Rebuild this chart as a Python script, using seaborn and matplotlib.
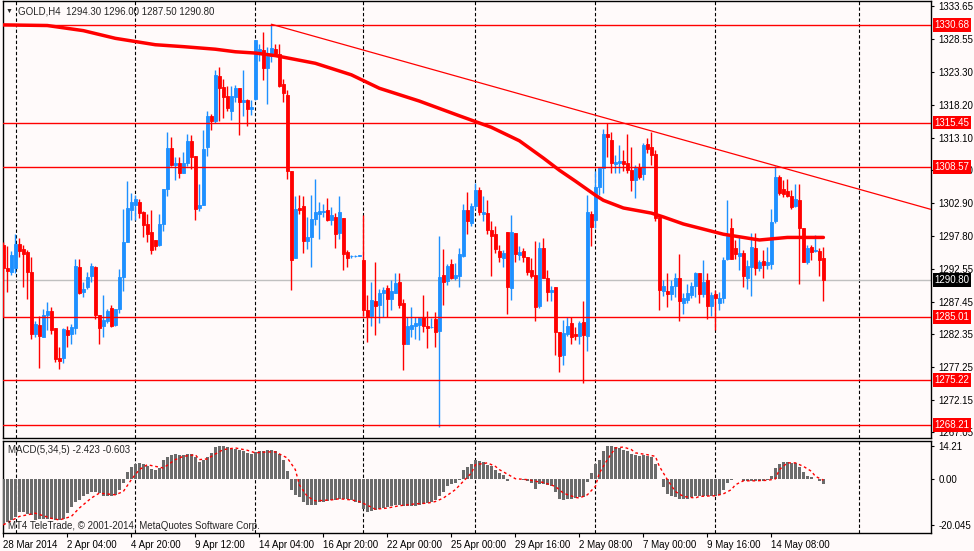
import numpy as np
import pandas as pd
import seaborn as sns
import matplotlib.pyplot as plt
import matplotlib.transforms as mtransforms

# GOLD H4 candles, bar 0 = 28 Mar 2014
opens = [
    1296.3, 1292.8, 1292.1, 1292.8, 1296.5, 1295.7, 1295.2, 1292.1, 1282.4, 1283.8,
    1282.0, 1285.4, 1286.0, 1283.3, 1278.7, 1278.7, 1283.0, 1282.4, 1283.4, 1292.9,
    1289.0, 1289.7, 1291.4, 1292.9, 1285.4, 1283.7, 1284.4, 1286.5, 1283.8, 1286.3,
    1291.3, 1296.8, 1301.8, 1302.6, 1303.0, 1301.4, 1299.6, 1298.3, 1297.1, 1296.3,
    1299.6, 1305.1, 1311.5, 1308.8, 1309.1, 1307.6, 1309.1, 1312.6, 1310.2, 1302.1,
    1302.6, 1311.6, 1316.5, 1315.7, 1322.7, 1321.0, 1319.6, 1317.3, 1319.5, 1320.8,
    1318.7, 1318.9, 1317.6, 1319.1, 1326.5, 1326.8, 1324.0, 1325.8, 1326.9, 1326.2,
    1321.5, 1319.7, 1307.9, 1294.3, 1302.1, 1302.4, 1297.0, 1297.6, 1300.4, 1301.2,
    1301.4, 1301.8, 1300.3, 1300.7, 1298.2, 1300.5, 1295.2, 1294.6, 1294.6, 1294.65,
    1294.0, 1286.1, 1285.3, 1287.6, 1286.9, 1288.8, 1289.6, 1287.9, 1288.8, 1290.5,
    1287.3, 1280.9, 1283.2, 1283.7, 1283.9, 1285.1, 1283.7, 1283.5, 1284.8, 1282.9,
    1291.6, 1290.7, 1293.3, 1291.2, 1291.5, 1294.6, 1301.8, 1299.8, 1302.4, 1304.9,
    1301.2, 1301.3, 1298.7, 1298.0, 1295.4, 1294.3, 1298.3, 1289.6, 1298.2, 1294.7,
    1295.4, 1294.4, 1292.4, 1291.6, 1286.8, 1295.8, 1291.1, 1289.0, 1289.8, 1282.8,
    1279.2, 1282.4, 1284.1, 1282.4, 1282.1, 1284.3, 1282.1, 1301.2, 1300.2, 1305.3,
    1308.4, 1313.7, 1312.7, 1309.0, 1309.2, 1309.4, 1309.2, 1308.0, 1306.5, 1308.5,
    1307.4, 1312.1, 1311.6, 1310.6, 1300.7, 1289.2, 1289.1, 1288.7, 1289.9, 1291.1,
    1287.3, 1287.8, 1288.5, 1289.9, 1291.9, 1288.7, 1290.8, 1286.8, 1288.7, 1287.3,
    1288.0, 1294.1, 1299.0, 1295.8, 1294.6, 1295.1, 1291.2, 1292.9, 1295.8, 1292.8,
    1293.8, 1293.2, 1293.3, 1300.0, 1307.0, 1305.0, 1304.8, 1304.0, 1302.4, 1303.4,
    1298.9, 1293.7, 1296.0, 1295.4, 1295.4, 1294.3,
]
highs = [
    1296.8, 1296.2, 1295.4, 1298.1, 1297.4, 1296.3, 1295.6, 1294.4, 1284.5, 1285.2,
    1286.3, 1287.4, 1286.7, 1283.3, 1280.4, 1283.3, 1283.6, 1284.0, 1294.1, 1294.1,
    1290.5, 1292.1, 1293.5, 1293.0, 1285.4, 1288.5, 1286.3, 1287.0, 1286.3, 1292.6,
    1301.9, 1306.3, 1304.4, 1304.1, 1303.5, 1301.6, 1301.1, 1301.8, 1297.1, 1301.1,
    1305.1, 1314.0, 1313.2, 1310.1, 1310.1, 1310.8, 1313.6, 1313.5, 1310.2, 1305.9,
    1314.3, 1317.2, 1316.8, 1323.7, 1324.1, 1322.2, 1321.1, 1321.1, 1321.3, 1320.8,
    1323.7, 1319.2, 1319.0, 1328.4, 1327.7, 1329.6, 1327.3, 1330.8, 1327.7, 1327.7,
    1322.2, 1320.5, 1307.9, 1304.0, 1304.2, 1304.0, 1300.7, 1304.1, 1306.6, 1303.0,
    1302.7, 1303.7, 1302.2, 1301.3, 1303.9, 1300.5, 1295.5, 1294.7, 1294.7, 1294.7,
    1301.0, 1288.5, 1290.6, 1293.6, 1289.5, 1289.8, 1290.1, 1290.8, 1292.0, 1292.0,
    1287.9, 1285.1, 1286.7, 1285.1, 1285.1, 1288.5, 1286.0, 1284.9, 1285.9, 1297.7,
    1295.7, 1293.3, 1294.1, 1293.5, 1295.8, 1302.8, 1304.6, 1302.9, 1306.05, 1305.3,
    1304.0, 1303.3, 1300.1, 1299.3, 1296.3, 1295.5, 1298.3, 1301.0, 1298.2, 1296.2,
    1295.8, 1294.4, 1294.3, 1296.9, 1296.8, 1297.4, 1292.4, 1289.9, 1289.8, 1282.8,
    1284.6, 1285.1, 1285.1, 1283.5, 1284.5, 1287.6, 1304.1, 1301.6, 1307.8, 1308.4,
    1314.5, 1315.3, 1314.0, 1310.4, 1312.0, 1311.2, 1313.65, 1311.7, 1308.8, 1309.1,
    1312.3, 1313.0, 1314.0, 1311.2, 1300.7, 1290.9, 1291.9, 1290.8, 1291.9, 1294.9,
    1288.8, 1290.3, 1290.5, 1292.1, 1291.9, 1294.0, 1292.0, 1289.0, 1289.3, 1289.0,
    1294.5, 1303.3, 1300.6, 1297.1, 1297.5, 1295.6, 1294.0, 1298.2, 1298.2, 1293.9,
    1295.5, 1296.0, 1301.9, 1308.7, 1307.2, 1306.4, 1306.6, 1304.9, 1305.8, 1305.9,
    1298.9, 1296.3, 1296.3, 1297.9, 1295.8, 1296.0,
]
lows = [
    1285.1, 1289.0, 1291.6, 1291.9, 1294.5, 1289.8, 1287.9, 1281.7, 1282.0, 1277.1,
    1282.0, 1283.0, 1282.4, 1278.0, 1277.0, 1277.9, 1280.4, 1280.8, 1282.4, 1288.7,
    1288.2, 1289.4, 1290.5, 1284.8, 1280.8, 1281.9, 1284.2, 1283.5, 1283.7, 1285.7,
    1289.1, 1296.8, 1300.2, 1300.2, 1300.5, 1297.5, 1296.8, 1294.9, 1295.5, 1296.1,
    1298.5, 1304.0, 1308.6, 1306.4, 1306.8, 1307.5, 1308.7, 1308.2, 1300.2, 1301.7,
    1302.6, 1310.2, 1314.3, 1315.3, 1315.7, 1316.1, 1317.2, 1315.8, 1318.7, 1313.5,
    1316.4, 1314.9, 1316.6, 1319.0, 1325.0, 1322.1, 1318.4, 1324.9, 1325.8, 1321.0,
    1318.7, 1306.7, 1289.3, 1294.3, 1301.2, 1295.1, 1295.7, 1292.9, 1299.4, 1297.2,
    1300.7, 1300.1, 1299.5, 1295.9, 1297.2, 1292.4, 1292.9, 1294.3, 1294.5, 1294.6,
    1285.2, 1281.2, 1283.7, 1282.3, 1284.2, 1285.1, 1285.1, 1286.1, 1288.8, 1286.5,
    1276.8, 1280.9, 1282.0, 1281.7, 1281.5, 1282.7, 1280.3, 1283.3, 1280.4, 1267.9,
    1287.0, 1290.0, 1291.0, 1290.8, 1289.8, 1294.4, 1298.1, 1299.3, 1302.0, 1301.0,
    1300.0, 1298.1, 1291.4, 1295.0, 1293.6, 1292.9, 1285.6, 1287.8, 1293.7, 1293.9,
    1293.6, 1291.7, 1291.1, 1284.5, 1286.5, 1291.1, 1287.5, 1287.6, 1279.2, 1276.5,
    1277.5, 1282.1, 1280.9, 1281.5, 1280.9, 1274.7, 1279.8, 1296.1, 1298.9, 1304.2,
    1304.5, 1310.1, 1307.6, 1307.5, 1307.5, 1307.8, 1307.6, 1304.8, 1303.7, 1306.7,
    1306.5, 1310.7, 1308.8, 1300.1, 1286.1, 1288.3, 1286.7, 1287.7, 1288.2, 1284.5,
    1285.6, 1287.2, 1288.0, 1288.2, 1287.2, 1288.2, 1284.7, 1285.2, 1283.0, 1286.2,
    1287.3, 1294.0, 1294.1, 1294.1, 1292.4, 1289.8, 1289.5, 1288.3, 1291.6, 1292.2,
    1291.1, 1292.5, 1292.5, 1299.8, 1304.1, 1303.8, 1303.8, 1302.0, 1302.3, 1290.3,
    1293.7, 1293.4, 1294.0, 1295.3, 1291.4, 1287.5,
]
closes = [
    1292.8, 1292.3, 1294.8, 1296.5, 1295.4, 1294.9, 1292.1, 1282.4, 1284.0, 1282.1,
    1285.4, 1286.0, 1283.0, 1278.5, 1278.2, 1283.2, 1282.3, 1283.5, 1293.0, 1288.8,
    1289.4, 1291.3, 1293.0, 1285.4, 1283.3, 1284.6, 1286.0, 1283.7, 1286.3, 1291.3,
    1296.8, 1302.1, 1303.0, 1303.5, 1301.3, 1299.5, 1298.1, 1295.6, 1296.2, 1299.6,
    1305.1, 1311.5, 1308.8, 1309.1, 1307.6, 1309.1, 1312.6, 1310.1, 1302.0, 1302.6,
    1311.3, 1316.5, 1315.7, 1322.9, 1320.8, 1319.5, 1317.7, 1319.6, 1320.8, 1318.6,
    1318.9, 1317.5, 1317.9, 1328.3, 1326.9, 1323.9, 1325.8, 1327.1, 1326.2, 1321.2,
    1320.0, 1307.9, 1294.0, 1301.9, 1301.8, 1297.0, 1297.6, 1300.4, 1301.4, 1301.6,
    1301.7, 1300.3, 1301.0, 1298.1, 1301.4, 1294.9, 1294.3, 1294.65, 1294.65, 1294.7,
    1286.1, 1285.1, 1287.7, 1286.8, 1288.8, 1289.3, 1287.9, 1289.1, 1290.4, 1286.9,
    1280.9, 1283.7, 1283.9, 1284.1, 1284.9, 1283.7, 1283.4, 1283.56, 1282.8, 1291.3,
    1290.6, 1293.1, 1291.1, 1291.6, 1294.9, 1301.8, 1300.1, 1302.4, 1304.9, 1301.4,
    1301.5, 1298.7, 1297.8, 1295.7, 1294.5, 1295.1, 1289.8, 1298.3, 1294.9, 1295.2,
    1294.4, 1292.1, 1291.4, 1286.7, 1295.8, 1291.1, 1288.9, 1289.3, 1282.8, 1279.0,
    1282.5, 1283.6, 1282.0, 1282.05, 1284.1, 1282.2, 1301.4, 1299.1, 1305.3, 1308.4,
    1313.7, 1313.2, 1309.1, 1309.3, 1309.4, 1309.0, 1308.0, 1306.4, 1308.4, 1307.0,
    1311.9, 1311.3, 1310.4, 1300.5, 1289.3, 1289.9, 1288.7, 1289.9, 1291.1, 1287.5,
    1288.1, 1288.8, 1289.9, 1291.9, 1288.7, 1290.6, 1286.8, 1288.5, 1288.0, 1288.1,
    1294.0, 1297.7, 1294.2, 1294.9, 1295.1, 1291.4, 1293.1, 1296.0, 1292.7, 1293.7,
    1293.2, 1293.6, 1299.9, 1307.0, 1304.4, 1304.3, 1304.0, 1302.3, 1303.5, 1298.9,
    1293.7, 1295.9, 1295.3, 1295.5, 1294.0, 1290.8,
]

# moving average (thick red), read at a few bars
ma_bar = [0, 11, 20, 28, 33, 38, 45, 53, 58, 63, 68, 73, 78, 87, 94, 104, 114,
          122, 129, 135, 139, 143, 148, 150, 155, 162, 165, 170, 175, 180, 185,
          189, 196, 205]
ma_val = [1330.7, 1330.6, 1329.8, 1328.6, 1328.1, 1327.6, 1327.3, 1326.9,
          1326.5, 1326.3, 1325.9, 1325.3, 1324.7, 1322.9, 1320.8, 1318.8,
          1316.5, 1314.7, 1312.6, 1309.9, 1308.0, 1306.3, 1304.1, 1303.3,
          1302.1, 1301.3, 1300.7, 1299.6, 1298.8, 1298.0, 1297.5, 1297.1,
          1297.5, 1297.5]

# trend line through two highs
trend_bar = [67, 193]
trend_val = [1330.8, 1308.7]

levels = [1330.68, 1315.45, 1308.57, 1285.01, 1275.22, 1268.21]
last_price = 1290.80

price_ticks = [1333.65, 1328.55, 1323.30, 1318.20, 1313.10, 1308.00, 1302.90,
               1297.80, 1292.55, 1287.45, 1282.35, 1277.25, 1272.15, 1267.05]

macd_hist = [
    -20.0, -18.4, -17.7, -16.5, -14.5, -14.5, -15.1, -15.7, -17.7, -17.1,
    -17.1, -17.4, -17.4, -17.7, -17.7, -17.1, -14.8, -12.2, -10.2, -9.1,
    -7.3, -6.5, -5.9, -5.6, -6.2, -7.3, -7.6, -7.3, -6.8, -5.0,
    -1.9, 2.7, 5.0, 6.5, 6.8, 6.3, 5.6, 4.2, 3.6, 4.6,
    7.9, 9.3, 10.3, 10.6, 10.2, 10.3, 10.8, 10.5, 9.3, 7.3,
    7.9, 9.3, 11.1, 13.4, 14.2, 14.2, 13.4, 12.9, 12.8, 12.5,
    11.8, 11.1, 10.5, 11.6, 12.1, 12.1, 12.2, 12.5, 12.1, 10.5,
    8.2, 3.2, -5.0, -7.0, -7.9, -10.2, -11.2, -11.4, -11.1, -10.2,
    -9.8, -9.5, -9.1, -9.1, -8.8, -8.8, -8.9, -9.2, -9.8, -10.5,
    -12.8, -14.1, -13.9, -13.4, -13.1, -12.6, -12.2, -11.6, -11.4, -11.2,
    -11.6, -11.9, -11.8, -11.5, -11.1, -10.8, -10.5, -9.9, -9.3, -7.6,
    -5.9, -3.3, -2.4, -1.9, -0.4, 3.6, 4.9, 6.5, 7.9, 7.5,
    7.0, 6.0, 5.3, 3.9, 2.4, 1.7, -0.9, -0.1, -0.1, -0.3,
    -0.4, -1.0, -1.9, -4.3, -2.2, -2.2, -2.9, -3.3, -5.9, -8.6,
    -9.1, -8.8, -8.6, -8.3, -8.0, -8.0, -1.6, 2.4, 6.3, 8.2,
    12.1, 14.2, 14.2, 13.6, 13.2, 12.5, 11.8, 10.6, 10.2, 9.6,
    10.1, 9.9, 9.3, 6.3, -0.1, -3.7, -6.5, -7.3, -7.9, -8.6,
    -8.8, -8.8, -7.9, -7.6, -7.3, -7.3, -7.3, -7.3, -7.3, -6.9,
    -4.7, -1.9, -0.7, -0.1, -0.1, -1.1, -1.1, -0.9, -0.9, -0.9,
    -1.1, -0.4, 1.3, 4.6, 6.3, 7.0, 7.0, 6.8, 6.8, 4.9,
    2.7, 1.0, 0.6, 0.0, -0.9, -2.423,
]
sig_bar = [0, 4, 8, 12, 14, 17, 19, 22, 24, 28, 30, 32, 34, 36, 38, 40, 43, 45,
           48, 49, 51, 53, 55, 58, 61, 63, 66, 68, 71, 73, 74, 76, 78, 82, 84,
           87, 89, 92, 93, 96, 99, 103, 106, 108, 110, 113, 115, 117, 118, 121,
           123, 124, 127, 128, 131, 133, 135, 138, 140, 143, 144, 146, 148, 149,
           151, 153, 155, 157, 158, 161, 163, 164, 166, 168, 170, 173, 174, 178,
           180, 182, 183, 185, 188, 191, 193, 194, 196, 198, 200, 202, 203, 205]
sig_val = [-19.8, -16.2, -14.8, -17.0, -17.7, -16.2, -12.6, -8.3, -6.2, -6.9,
           -5.5, -0.4, 3.9, 6.0, 5.3, 4.6, 8.2, 9.6, 10.3, 8.2, 8.5, 10.6, 12.5,
           13.2, 12.2, 11.1, 11.5, 11.5, 8.9, 3.9, -2.6, -7.6, -9.5, -9.1, -8.6,
           -9.1, -9.8, -12.2, -13.1, -12.6, -11.6, -10.8, -10.5, -9.8, -8.3,
           -4.7, -1.1, 2.4, 6.0, 6.8, 5.3, 3.9, 1.0, 0.0, -0.4, -1.1, -1.6, -3.3,
           -6.2, -8.0, -8.3, -6.9, -3.3, 2.4, 8.2, 13.2, 13.6, 12.5, 11.1, 10.3,
           9.6, 5.3, -0.4, -5.5, -7.6, -8.3, -7.6, -7.3, -6.5, -4.7, -2.6, -0.9,
           -0.9, -0.7, -0.1, 3.9, 6.8, 6.8, 5.3, 3.2, 1.0, -0.603]
macd_ticks = [14.21, 0.0, -20.045]
macd_tick_labels = ['14.21', '0.00', '-20.045']

grid_bars = [3.2, 33, 63, 90, 118, 148, 178, 214]
time_bars = [0, 16, 32, 48, 64, 80, 96, 112, 128, 144, 160, 176, 192]
time_labels = ['28 Mar 2014', '2 Apr 04:00', '4 Apr 20:00', '9 Apr 12:00',
               '14 Apr 04:00', '16 Apr 20:00', '22 Apr 00:00', '25 Apr 00:00',
               '29 Apr 16:00', '2 May 08:00', '7 May 00:00', '9 May 16:00',
               '14 May 08:00']

sns.set_style('white')
plt.rcParams['font.family'] = ['Liberation Sans', 'DejaVu Sans']
plt.rcParams['font.size'] = 7

BG = '#fffafa'
BULL = '#1e90ff'
BEAR = '#ff0000'

W, H = 974, 551
fig = plt.figure(figsize=(W / 100, H / 100), dpi=100, facecolor=BG)
ax = fig.add_axes([2.5 / W, 1 - 437.5 / H, 928.5 / W, 436.5 / H], facecolor=BG)
ax2 = fig.add_axes([2.5 / W, 1 - 533 / H, 928.5 / W, 92.5 / H], facecolor=BG)

df = pd.DataFrame({'open': opens, 'high': highs, 'low': lows, 'close': closes})
df['bar'] = np.arange(len(df))
colors = np.where(df['close'] >= df['open'], BULL, BEAR)

# price panel
for b in grid_bars:
    ax.axvline(b, color='black', lw=0.8, ls=(0, (3, 2)), zorder=1)
ax.axhline(last_price, color='#c0c0c0', lw=1, zorder=1.5)

ax.vlines(df['bar'], df['low'], df['high'], colors=colors, lw=1, zorder=3)
ax.bar(df['bar'], (df['close'] - df['open']).abs(),
       bottom=df[['open', 'close']].min(axis=1), width=0.6,
       color=colors, edgecolor=colors, lw=0.6, zorder=3)

sns.lineplot(x=ma_bar, y=ma_val, ax=ax, color='red', lw=2.5,
             estimator=None, sort=False, zorder=4)

slope = (trend_val[1] - trend_val[0]) / (trend_bar[1] - trend_bar[0])
x_end = 233
ax.plot([trend_bar[0], x_end], [trend_val[0], trend_val[0] + slope * (x_end - trend_bar[0])],
        color='red', lw=0.9, zorder=4)

for lv in levels:
    ax.axhline(lv, color='red', lw=1, zorder=4)

ax.set_xlim(-0.2, 231.9)
ax.set_ylim(1266.25, 1334.43)
ax.yaxis.tick_right()
ax.set_yticks(price_ticks)
ax.set_yticklabels([f'{v:.2f}' for v in price_ticks])
ax.tick_params(axis='y', right=True, left=False, length=2.5, width=0.8, pad=3,
               labelsize=7, colors='black', direction='out')
ax.tick_params(axis='x', bottom=False, labelbottom=False)
ax.set_xlabel('')
ax.set_ylabel('')

trans = mtransforms.blended_transform_factory(ax.transAxes, ax.transData)
box_x = 1 + 3.5 / 928.5
for lv in levels:
    ax.text(box_x, lv, f'{lv:.2f}', transform=trans, ha='left', va='center',
            color='white', fontsize=7, zorder=6, clip_on=False,
            bbox=dict(boxstyle='square,pad=0.2', fc='#ff0000', ec='none'))
ax.text(box_x, last_price, f'{last_price:.2f}', transform=trans, ha='left',
        va='center', color='white', fontsize=7, zorder=6, clip_on=False,
        bbox=dict(boxstyle='square,pad=0.2', fc='black', ec='none'))

# MACD panel
for b in grid_bars:
    ax2.axvline(b, color='black', lw=0.8, ls=(0, (3, 2)), zorder=1)
sns.barplot(x=df['bar'], y=macd_hist, native_scale=True, color='#6b6b6b',
            saturation=1, width=0.75, errorbar=None, linewidth=0, ax=ax2, zorder=3)
ax2.plot(sig_bar, sig_val, color='red', lw=1, ls=(0, (2, 2)), zorder=4)

ax2.set_xlim(-0.2, 231.9)
ax2.set_ylim(-23.3, 16.4)
ax2.yaxis.tick_right()
ax2.set_yticks(macd_ticks)
ax2.set_yticklabels(macd_tick_labels)
ax2.tick_params(axis='y', right=True, left=False, length=2.5, width=0.8, pad=3,
                labelsize=7, colors='black', direction='out')
ax2.set_xticks(time_bars)
ax2.set_xticklabels(time_labels, ha='left')
ax2.tick_params(axis='x', bottom=True, length=3, width=0.8, pad=2,
                labelsize=7, colors='black', direction='out')
ax2.set_xlabel('')
ax2.set_ylabel('')

for a in (ax, ax2):
    for s in a.spines.values():
        s.set_color('black')
        s.set_linewidth(1)
        s.set_visible(True)

fig.text(6 / W, 1 - 11 / H, '\u25bc', fontsize=5, va='center', ha='left')
fig.text(18 / W, 1 - 11 / H, 'GOLD,H4  1294.30 1296.00 1287.50 1290.80',
         fontsize=7, va='center', ha='left')
fig.text(7.5 / W, 1 - 450 / H, 'MACD(5,34,5) -2.423 -0.603', fontsize=7,
         va='center', ha='left')
fig.text(7.5 / W, 1 - 526 / H, 'MT4 TeleTrade, \u00a9 2001-2014, MetaQuotes Software Corp.',
         fontsize=7, va='center', ha='left')

fig.savefig('out.png', dpi=100, facecolor=BG)
